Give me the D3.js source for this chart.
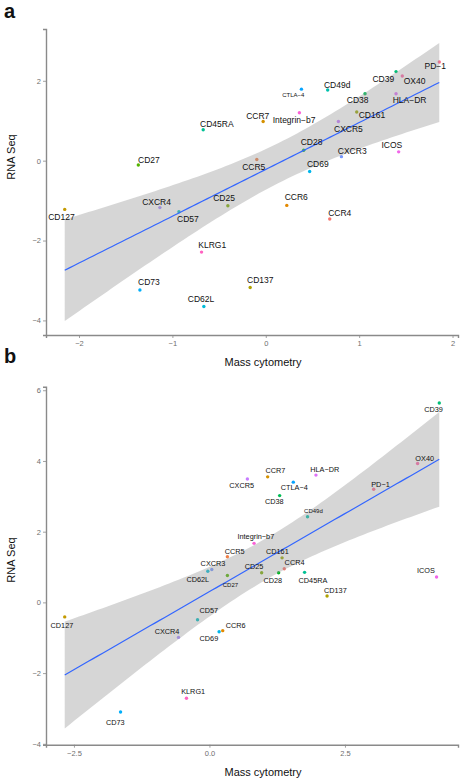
<!DOCTYPE html>
<html><head><meta charset="utf-8">
<script src="https://cdn.jsdelivr.net/npm/d3@7"></script>
<style>
html,body{margin:0;padding:0;background:#fff;}
svg{display:block;font-family:"Liberation Sans",Arial,sans-serif;}
</style></head>
<body>
<svg id="chart" width="464" height="780"></svg>
<script>
// ---------------- DATA ----------------
// Panel a
const namesA = ["PD-1","CD39","OX40","CTLA-4","CD49d","CD38","HLA-DR","CD161","Integrin-b7","CCR7",
  "CXCR5","CD28","CXCR3","ICOS","CCR5","CD69","CD45RA","CD27","CXCR4","CD57",
  "CD25","CCR6","CCR4","CD137","CD127","KLRG1","CD73","CD62L"];
const massA = [1.858,1.395,1.462,0.382,0.663,1.063,1.395,0.974,0.36,-0.028,
  0.778,0.406,0.81,1.423,-0.096,0.47,-0.67,-1.365,-1.134,-0.93,
  -0.406,0.225,0.685,-0.167,-2.153,-0.688,-1.348,-0.663];
const rnaA = [2.47,2.23,2.12,1.79,1.77,1.675,1.675,1.22,1.2,0.98,
  0.98,0.26,0.1,0.22,0.03,-0.27,0.775,-0.11,-1.175,-1.28,
  -1.13,-1.12,-1.46,-3.175,-1.22,-2.29,-3.24,-3.65];
const xTicksA = [-2,-1,0,1,2];
const yTicksA = [-4,-2,0,2];

// Panel b
const namesB = ["CD39","OX40","PD-1","HLA-DR","CCR7","CXCR5","CTLA-4","CD38","CD49d","Integrin-b7",
  "CCR5","CD161","CXCR3","CD62L","CD27","CD25","CD28","CCR4","CD45RA","CD137",
  "ICOS","CCR6","CD69","CD57","CXCR4","CD127","KLRG1","CD73"];
const massB = [4.24,3.84,3.03,1.965,1.074,0.70,1.547,1.295,1.81,0.823,
  0.331,1.34,0.043,-0.03,0.331,0.963,1.276,1.38,1.755,2.17,
  4.19,0.245,0.178,-0.22,-0.571,-2.67,-0.424,-1.64];
const rnaB = [5.64,3.93,3.2,3.6,3.55,3.49,3.4,3.02,2.42,1.67,
  1.29,1.26,0.93,0.88,0.76,0.84,0.84,0.95,0.85,0.18,
  0.72,-0.8,-0.83,-0.49,-0.99,-0.41,-2.71,-3.1];
const xTicksB = [-2.5,0,2.5];
const yTicksB = [-4,-2,0,2,4,6];

// label nudges (px, label centre relative to point) — layout, not data
const nudgeA = {"PD-1":[-4,4.4],"CD39":[-12.7,7.3],"OX40":[12.3,4.7],"CTLA-4":[-8.2,5.4],"CD49d":[9.5,-5.3],
  "CD38":[-7.4,6.3],"HLA-DR":[13.5,6],"CD161":[15.2,2.7],"Integrin-b7":[-5.3,7.3],"CCR7":[-5.4,-5.4],
  "CXCR5":[10,7.3],"ICOS":[-6.8,-6.6],"CXCR3":[10.8,-5.3],"CD28":[7.9,-8],"CCR5":[-3.1,8],"CD69":[8.2,-7.7],
  "CD45RA":[13.6,-5.7],"CD27":[10.6,-5.3],"CXCR4":[-3.3,-5.7],"CD57":[9,7.7],"CD25":[-3.8,-7.3],
  "CCR6":[9.5,-8],"CCR4":[10,-6],"CD137":[10.1,-7],"CD127":[-3.3,7.6],"KLRG1":[10.7,-7.4],
  "CD73":[9,-8],"CD62L":[-2.8,-7]};
const nudgeB = {"CD39":[-5.8,6.3],"OX40":[7.1,-5.3],"PD-1":[6.8,-5],"HLA-DR":[8.8,-5.4],"CCR7":[7.7,-6.7],
  "CXCR5":[-5.7,6.3],"CTLA-4":[1,5.7],"CD38":[-5.3,6],"CD49d":[5.9,-6],"Integrin-b7":[1.8,-6.6],
  "CCR5":[7.3,-5.4],"CD161":[-4.7,-6.4],"CXCR3":[1.2,-5.6],"CD62L":[-10,8],"CD27":[3,9],"CD25":[-7.6,-6],
  "CD28":[-5.8,8],"CCR4":[10.3,-6],"CD45RA":[8.4,8.4],"CD137":[8.3,-6],"ICOS":[-10.6,-6.4],
  "CCR6":[13,-5.4],"CD69":[-10.2,7],"CD57":[11.2,-9.7],"CXCR4":[-11.5,-6.3],"CD127":[-2.8,9],
  "KLRG1":[6.7,-7],"CD73":[-5.2,10]};

// ---------------- helpers ----------------
function luvHex(h, c, l) {
  const Xn = 95.047, Yn = 100, Zn = 108.883;
  const hr = h * Math.PI / 180;
  const U = c * Math.cos(hr), V = c * Math.sin(hr);
  const Y = Yn * Math.pow((l + 16) / 116, 3);
  const t = Xn + 15 * Yn + 3 * Zn;
  const un = 4 * Xn / t, vn = 9 * Yn / t;
  const u = U / (13 * l) + un, v = V / (13 * l) + vn;
  const X = 9 * Y * u / (4 * v);
  const Z = -X / 3 - 5 * Y + 3 * Y / v;
  const x = X / 100, y = Y / 100, z = Z / 100;
  const lin = [3.240479 * x - 1.537150 * y - 0.498535 * z,
              -0.969256 * x + 1.875992 * y + 0.041556 * z,
               0.055648 * x - 0.204043 * y + 1.057311 * z];
  const g = lin.map(a => {
    let s = a <= 0.0031308 ? 12.92 * a : 1.055 * Math.pow(a, 1 / 2.4) - 0.055;
    return Math.round(Math.max(0, Math.min(1, s)) * 255);
  });
  return d3.rgb(g[0], g[1], g[2]).formatHex();
}
const levels = namesA.slice().sort((a, b) => a < b ? -1 : a > b ? 1 : 0);
const palette = {};
levels.forEach((n, i) => { palette[n] = luvHex(15 + 360 * i / levels.length, 100, 65); });

function lmFit(xs, ys) {
  const n = xs.length;
  const mx = d3.mean(xs), my = d3.mean(ys);
  let sxx = 0, sxy = 0;
  xs.forEach((x, i) => { sxx += (x - mx) ** 2; sxy += (x - mx) * (ys[i] - my); });
  const b = sxy / sxx, a = my - b * mx;
  let ss = 0;
  xs.forEach((x, i) => { ss += (ys[i] - a - b * x) ** 2; });
  const s = Math.sqrt(ss / (n - 2));
  const tq = 2.0555; // t(0.975, df = 26)
  const [x0, x1] = d3.extent(xs);
  const pts = d3.range(80).map(k => {
    const x = x0 + (x1 - x0) * k / 79;
    const yh = a + b * x;
    const se = s * Math.sqrt(1 / n + (x - mx) ** 2 / sxx);
    return {x, y: yh, lo: yh - tq * se, hi: yh + tq * se};
  });
  return pts;
}
const fmtMinus = t => t.replace(/-/g, "\u2212");

const svg = d3.select("#chart");

function panel(cfg) {
  const fit = lmFit(cfg.xs, cfg.ys);
  const xr = d3.extent(cfg.xs);
  const yr = [Math.min(d3.min(cfg.ys), d3.min(fit, d => d.lo)), Math.max(d3.max(cfg.ys), d3.max(fit, d => d.hi))];
  const ex = (xr[1] - xr[0]) * 0.05, ey = (yr[1] - yr[0]) * 0.05;
  const x = d3.scaleLinear().domain([xr[0] - ex, xr[1] + ex]).range([cfg.left, cfg.right]);
  const y = d3.scaleLinear().domain([yr[0] - ey, yr[1] + ey]).range([cfg.bottom, cfg.top]);
  const g = svg.append("g");

  // axes
  const xAxis = d3.axisBottom(x).tickValues(cfg.xTicks).tickSize(3).tickPadding(3).tickFormat(cfg.xFmt);
  const yAxis = d3.axisLeft(y).tickValues(cfg.yTicks).tickSize(3).tickPadding(2).tickFormat(d3.format("d"));
  const gx = g.append("g").attr("transform", `translate(0,${cfg.bottom})`).call(xAxis);
  const gy = g.append("g").attr("transform", `translate(${cfg.left},0)`).call(yAxis);
  [gx, gy].forEach(ax => {
    ax.select(".domain").attr("stroke", "#8a8a8a").attr("stroke-width", 1.4);
    ax.selectAll(".tick line").attr("stroke", "#8a8a8a").attr("stroke-width", 0.8);
    ax.selectAll(".tick text").attr("fill", "#6e6e6e").attr("font-size", 7.5)
      .attr("font-family", "Liberation Sans, Arial, sans-serif");
  });

  // points
  g.append("g").selectAll("circle").data(cfg.names).join("circle")
    .attr("cx", (d, i) => x(cfg.xs[i])).attr("cy", (d, i) => y(cfg.ys[i]))
    .attr("r", 1.7).attr("fill", d => palette[d]);

  // smooth band + line
  g.append("path").datum(fit)
    .attr("d", d3.area().x(d => x(d.x)).y0(d => y(d.lo)).y1(d => y(d.hi)))
    .attr("fill", "#999999").attr("fill-opacity", 0.4);
  g.append("path").datum(fit)
    .attr("d", d3.line().x(d => x(d.x)).y(d => y(d.y)))
    .attr("fill", "none").attr("stroke", "#3366FF").attr("stroke-width", 1.2);

  // labels
  g.append("g").selectAll("text").data(cfg.names).join("text")
    .attr("x", (d, i) => x(cfg.xs[i]) + (cfg.nudge[d] || [0, 0])[0])
    .attr("y", (d, i) => y(cfg.ys[i]) + (cfg.nudge[d] || [0, 0])[1])
    .attr("dy", "0.35em").attr("text-anchor", "middle")
    .attr("font-size", d => cfg.small[d] || cfg.fs).attr("fill", "#111")
    .text(d => fmtMinus(d));

  // titles
  g.append("text").attr("x", 263).attr("y", cfg.bottom + 31).attr("text-anchor", "middle")
    .attr("font-size", 11).attr("fill", "#111").text("Mass cytometry");
  g.append("text").attr("transform", `translate(15,${cfg.yTitle}) rotate(-90)`).attr("text-anchor", "middle")
    .attr("font-size", 11).attr("fill", "#111").text("RNA Seq");
  g.append("text").attr("x", 4).attr("y", cfg.tagY).attr("font-size", 20).attr("font-weight", "bold")
    .attr("fill", "#111").text(cfg.tag);
}

panel({xs: massA, ys: rnaA, names: namesA, nudge: nudgeA, xTicks: xTicksA, yTicks: yTicksA,
  xFmt: d3.format("d"), left: 46, right: 458, top: 29, bottom: 335, fs: 8.5,
  small: {"CTLA-4": 6}, yTitle: 157, tag: "a", tagY: 18});
panel({xs: massB, ys: rnaB, names: namesB, nudge: nudgeB, xTicks: xTicksB, yTicks: yTicksB,
  xFmt: d3.format(".1f"), left: 46, right: 458, top: 386.7, bottom: 744.7, fs: 7.3,
  small: {"CD49d": 6, "CD27": 6}, yTitle: 560, tag: "b", tagY: 363});
</script>
</body></html>
